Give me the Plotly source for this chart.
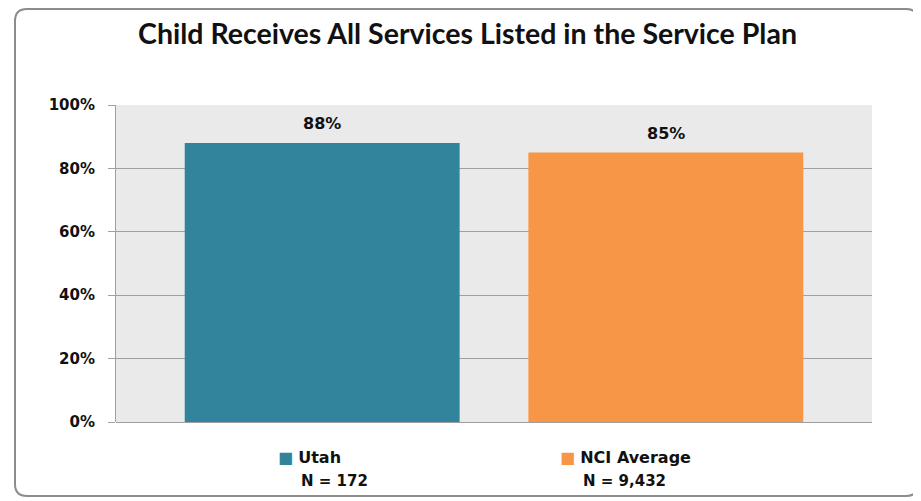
import plotly.graph_objects as go

# data
categories = ["Utah", "NCI Average"]
values = [0.88, 0.85]
sample_sizes = ["172", "9,432"]
colors = ["#31849B", "#F79646"]
y_ticks = [0, 0.2, 0.4, 0.6, 0.8, 1.0]

# page body adds an 8px margin, so the figure is shifted by that
OFF = 8
W, H = 921 - OFF, 501 - OFF
L, R, T, B = 116 - OFF, 49, 105 - OFF, 79
pw, ph = W - L - R, H - T - B


def px(x):
    # x in reference screen pixels -> paper
    return (x - OFF - L) / pw


def py(y):
    return (H - B - (y - OFF)) / ph


fig = go.Figure()

for name, val, col in zip(categories, values, colors):
    fig.add_trace(go.Bar(
        x=[name],
        y=[val],
        name=name,
        marker=dict(color=col, line=dict(width=0)),
        width=0.8,
        showlegend=False,
    ))

# value labels above bars
for name, val in zip(categories, values):
    fig.add_annotation(
        x=name, y=val, text=f"<b>{val:.0%}</b>",
        showarrow=False, yanchor="bottom", yshift=8,
        font=dict(family="DejaVu Sans", size=16, color="#111111"),
    )

# legend-like labels under the plot
legend_x = [276, 558]
for i, (name, n, col) in enumerate(zip(categories, sample_sizes, colors)):
    fig.add_annotation(
        xref="paper", yref="paper", x=px(legend_x[i]), y=py(457),
        xanchor="left", yanchor="middle", showarrow=False,
        text=f"<span style='color:{col}'>■</span> <b>{name}</b>",
        font=dict(family="DejaVu Sans", size=16, color="#111111"),
    )
    fig.add_annotation(
        xref="paper", yref="paper", x=px(legend_x[i] + 23), y=py(481),
        xanchor="left", yanchor="middle", showarrow=False,
        text=f"<b>N = {n}</b>",
        font=dict(family="DejaVu Sans", size=15, color="#111111"),
    )

# rounded outer frame
x0, x1, y0, y1, r = 15, 918, 9, 496, 12
path = (
    f"M {px(x0 + r)},{py(y0)} L {px(x1 - r)},{py(y0)} "
    f"Q {px(x1)},{py(y0)} {px(x1)},{py(y0 + r)} "
    f"L {px(x1)},{py(y1 - r)} Q {px(x1)},{py(y1)} {px(x1 - r)},{py(y1)} "
    f"L {px(x0 + r)},{py(y1)} Q {px(x0)},{py(y1)} {px(x0)},{py(y1 - r)} "
    f"L {px(x0)},{py(y0 + r)} Q {px(x0)},{py(y0)} {px(x0 + r)},{py(y0)} Z"
)
fig.add_shape(type="path", path=path, xref="paper", yref="paper",
              line=dict(color="#8C8C8C", width=2), layer="below")

fig.update_layout(
    width=W, height=H,
    margin=dict(l=L, r=R, t=T, b=B),
    paper_bgcolor="white",
    plot_bgcolor="#EAEAEA",
    barmode="overlay",
    title=dict(
        text="<b>Child Receives All Services Listed in the Service Plan</b>",
        x=(467.5 - OFF) / W, y=1 - (34 - OFF) / H, xanchor="center", yanchor="middle",
        font=dict(family="Lato", size=28.5, color="#111111"),
    ),
    xaxis=dict(
        range=[-0.6, 1.6],
        showticklabels=False, ticks="", showgrid=False,
        showline=False, zeroline=False,
    ),
    yaxis=dict(
        range=[0, 1],
        tickvals=y_ticks, tickformat=".0%",
        ticks="outside", ticklen=7, tickcolor="#A0A0A0",
        ticklabelstandoff=10,
        showline=True, linecolor="#A0A0A0", linewidth=1,
        showgrid=True, gridcolor="#A0A0A0", gridwidth=1,
        zeroline=True, zerolinecolor="#A0A0A0", zerolinewidth=1,
        tickfont=dict(family="DejaVu Sans", size=15, color="#111111", weight="bold"),
    ),
)

fig.write_html("out.html")
